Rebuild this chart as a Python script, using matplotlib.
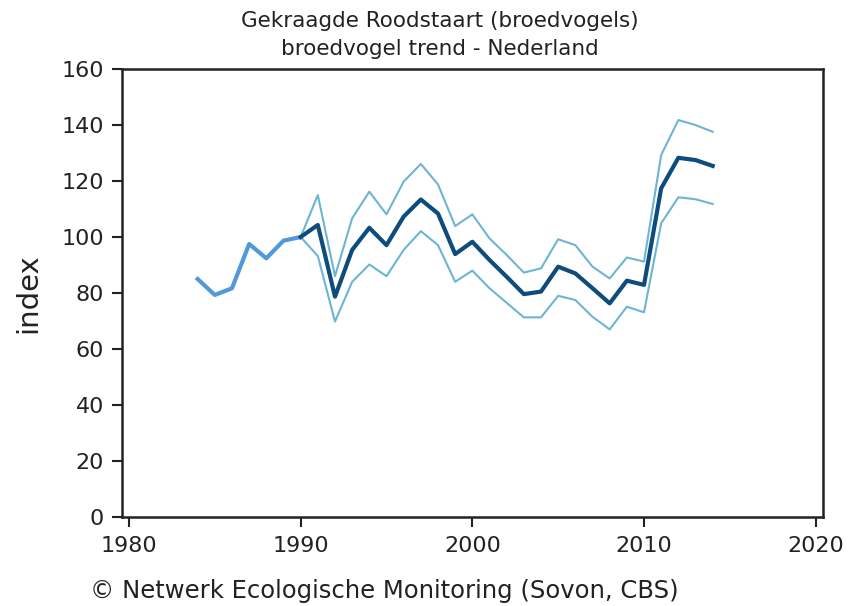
import matplotlib
matplotlib.use("Agg")
import matplotlib.pyplot as plt

# years before the trend period (single index line)
early_years = [1984, 1985, 1986, 1987, 1988, 1989, 1990]
early_index = [85, 79.3, 81.7, 97.5, 92.4, 98.7, 100]

# trend period with confidence band
years = list(range(1990, 2015))
index = [100, 104.3, 78.7, 95.4, 103.3, 97.1, 107.3, 113.4, 108.4, 93.9,
         98.3, 91.8, 85.8, 79.6, 80.5, 89.4, 87.0, 81.7, 76.3, 84.4,
         82.9, 117.4, 128.3, 127.5, 125.4]
upper = [100, 115.0, 86.0, 106.7, 116.2, 108.1, 119.8, 126.1, 118.8, 103.9,
         108.1, 99.5, 93.6, 87.3, 88.8, 99.2, 97.1, 89.4, 85.2, 92.7,
         91.2, 129.3, 141.8, 140.0, 137.6]
lower = [100, 93.2, 69.8, 84.0, 90.2, 86.0, 95.4, 102.1, 97.1, 84.0,
         88.0, 81.7, 76.5, 71.3, 71.3, 79.0, 77.5, 71.5, 67.0, 75.1,
         73.1, 104.9, 114.2, 113.5, 111.8]

fig = plt.figure(figsize=(8.48, 6.06), dpi=100)
ax = fig.add_axes([0.144, 0.147, 0.826, 0.739])

ax.plot(years, upper, color="#6db5d3", lw=1.5)
ax.plot(years, lower, color="#6db5d3", lw=1.5)
ax.plot(early_years, early_index, color="#5299da", lw=3)
ax.plot(years, index, color="#0d4c7c", lw=3)

ax.set_xlim(1979.6, 2020.4)
ax.set_ylim(0, 160)
ax.set_xticks([1980, 1990, 2000, 2010, 2020])
ax.set_yticks(range(0, 161, 20))
ax.tick_params(direction="out", length=7, width=1.5, labelsize=16, colors="#222222")
ax.tick_params(axis="x", pad=7)
ax.tick_params(axis="y", pad=6)
for s in ax.spines.values():
    s.set_linewidth(1.8)
    s.set_color("#222222")
ax.set_ylabel("index", fontsize=21, color="#222222", labelpad=14)

fig.text(0.519, 0.965, "Gekraagde Roodstaart (broedvogels)", ha="center", va="center",
         fontsize=15.5, color="#222222")
fig.text(0.519, 0.919, "broedvogel trend - Nederland", ha="center", va="center",
         fontsize=15.5, color="#222222")
fig.text(0.106, 0.025, "\u00a9 Netwerk Ecologische Monitoring (Sovon, CBS)", ha="left",
         va="center", fontsize=17.5, color="#222222")

fig.savefig("out.png", dpi=100)
